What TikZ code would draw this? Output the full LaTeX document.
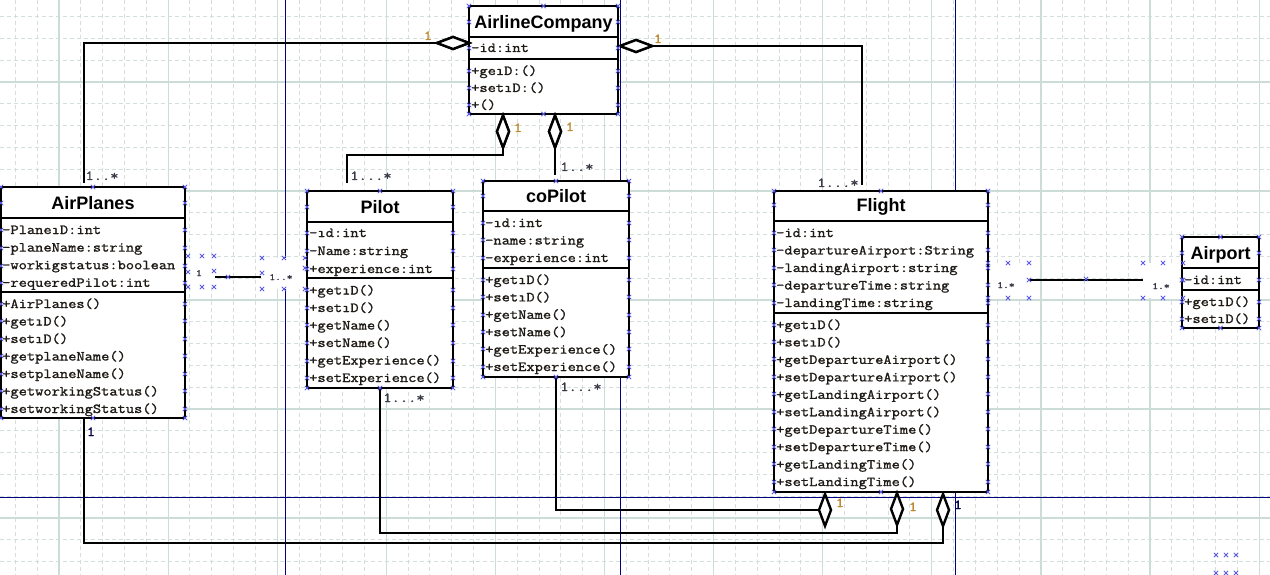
\documentclass[tikz,border=0pt]{standalone}
\usepackage{fontspec}
\setmainfont{Liberation Sans}
\newfontfamily\monof{Latin Modern Mono}[FakeStretch=1.16,FakeBold=1.3]
\usetikzlibrary{shapes.geometric,calc}
\definecolor{gridc}{HTML}{D4DFDC}
\definecolor{gridm}{HTML}{CCDCD8}
\definecolor{pagec}{HTML}{000080}
\definecolor{markc}{HTML}{5A5AE6}
\definecolor{onec}{HTML}{C08A2E}
\definecolor{txtc}{HTML}{1E1A16}
\definecolor{multc}{HTML}{3A3A48}
\tikzset{
 gminor/.style={gridc, line width=1pt, dash pattern=on 4pt off 3pt},
 gmajor/.style={gridm, line width=1.2pt},
 pageline/.style={pagec, line width=1pt},
 umlbox/.style={draw=black, fill=white, line width=2.8pt, rectangle, inner sep=0pt, outer sep=0pt, anchor=north west},
 sepline/.style={line width=2.8pt, black},
 conn/.style={line width=2.8pt, black},
 diamh/.style={diamond, draw=black, fill=white, line width=2.4pt, inner sep=0pt, outer sep=0pt, minimum width=32pt, minimum height=12pt, aspect=2.67},
 diamv/.style={diamond, draw=black, fill=white, line width=2.4pt, inner sep=0pt, outer sep=0pt, minimum width=12pt, minimum height=32pt, aspect=0.375},
 row/.style={anchor=base west, inner sep=0pt, font=\monof\fontsize{13.8}{16}\selectfont, text=txtc},
 title/.style={anchor=base, inner sep=0pt, font=\bfseries\fontsize{18}{20}\selectfont},
 mult/.style={anchor=base, inner sep=0pt, font=\monof\fontsize{13.8}{16}\selectfont, text=multc},
 one/.style={mult, text=onec},
 smalllab/.style={anchor=base, inner sep=0pt, font=\monof\fontsize{9.5}{10}\selectfont, text=multc},
 xm/.style={markc, line width=0.8pt},
 whitebg/.style={fill=white, draw=none},
}
\newcommand\xmk[2]{\draw[xm] (#1-2.2,#2-2.2) -- (#1+2.2,#2+2.2) (#1-2.2,#2+2.2) -- (#1+2.2,#2-2.2);}
\newcommand\boxmk[5]{%
  \pgfmathsetmacro\mkmid{(#1+#2)/2}%
  \xmk{\mkmid}{#3}\xmk{\mkmid}{#4}%
  \foreach \yy in {#3,#4,#5} {\xmk{#1}{\yy}\xmk{#2}{\yy}}%
}
% rows: x, first baseline, step, prefix, list
\newcommand\rows[5]{\foreach \t [count=\i from 0] in {#5} \node[row] (#4-\i) at (#1,{#2+\i*#3}) {\t};}
\begin{document}
\begin{tikzpicture}[x=1pt,y=-1pt]
\useasboundingbox (0,0) rectangle (1270,575);
\fill[white] (0,0) rectangle (1270,575);
% grid
\foreach \k in {-2,...,55} \draw[gminor] ({59+\k*21.82},0) -- ({59+\k*21.82},575);
\foreach \k in {-3,...,22} \draw[gminor] (0,{82+\k*21.8}) -- (1270,{82+\k*21.8});
\foreach \k in {0,...,11} \draw[gmajor] ({59+\k*109.1},0) -- ({59+\k*109.1},575);
\foreach \k in {0,...,4} \draw[gmajor] (0,{82+\k*109}) -- (1270,{82+\k*109});
% page borders
\draw[pageline] (285,0) -- (285,575);
\draw[pageline] (620,0) -- (620,575);
\draw[pageline] (955,0) -- (955,575);
\draw[pageline] (0,497) -- (1270,497);
% label backgrounds
\fill[whitebg] (188,256) rectangle (214,287);
\fill[whitebg] (262,258) rectangle (305,289);
\fill[whitebg] (988,263) rectangle (1029,298);
\fill[whitebg] (1143,263) rectangle (1183,298);

% diamond positions
\coordinate (d1c) at (453,43);
\coordinate (d2c) at (636,46);
\coordinate (d3c) at (503,131.5);
\coordinate (d4c) at (555,131.5);
\coordinate (d5c) at (825,510);
\coordinate (d6c) at (897,509);
\coordinate (d7c) at (943,510);

% boxes
\node[umlbox, minimum width=149pt, minimum height=108pt] (ac) at (469,6) {};
\node[umlbox, minimum width=184pt, minimum height=231pt] (apl) at (1,187) {};
\node[umlbox, minimum width=146pt, minimum height=197pt] (pil) at (307,191) {};
\node[umlbox, minimum width=146pt, minimum height=196pt] (cop) at (483,181) {};
\node[umlbox, minimum width=214pt, minimum height=301pt] (fl) at (774,191) {};
\node[umlbox, minimum width=77pt, minimum height=91pt] (apt) at (1182,237) {};

% connectors
\node[diamh] (d1) at (d1c) {};
\node[diamh] (d2) at (d2c) {};
\node[diamv] (d3) at (d3c) {};
\node[diamv] (d4) at (d4c) {};
\coordinate (apltop) at (84,183);
\coordinate (fltop) at (862,185);
\coordinate (piltop) at (347,183);
\coordinate (coptop) at (555,175);
\draw[conn] (d1.west) -| (apltop);
\draw[conn] (d2.east) -| (fltop);
\draw[conn] (d3.south) -- (503,155) -| (piltop);
\draw[conn] (d4.south) -- (coptop);
\draw[conn] (cop.south) |- (d5c);
\draw[conn] (pil.south) -- (380,533) -| (d6c);
\draw[conn] (84,418) -- (84,543) -| (d7c);
\coordinate (a1) at (215,277); \coordinate (a2) at (261,277);
\draw[conn] (a1) -- (a2);
\coordinate (b1) at (1030,280); \coordinate (b2) at (1143,280);
\draw[conn] (b1) -- (b2);
\node[diamh] (d1) at (d1c) {};
\node[diamh] (d2) at (d2c) {};
\node[diamv] (d3) at (d3c) {};
\node[diamv] (d4) at (d4c) {};
\node[diamv] (d5) at (d5c) {};
\node[diamv] (d6) at (d6c) {};
\node[diamv] (d7) at (d7c) {};

% AirlineCompany
\draw[sepline] (469,37) -- (618,37);
\draw[sepline] (469,59) -- (618,59);
\node[title] (ac-t) at (543.5,28.5) {AirlineCompany};
\rows{471}{52}{17}{aca}{-id:int}
\rows{471}{75}{17}{acm}{+geıD:(),+setıD:(),+()}

% AirPlanes
\draw[sepline] (1,218) -- (185,218);
\draw[sepline] (1,292) -- (185,292);
\node[title] (apl-t) at (93,209.5) {AirPlanes};
\rows{2}{234}{17.6}{apla}{-PlaneıD:int,-planeName:string,-workigstatus:boolean,-requeredPilot:int}
\rows{2}{308}{17.5}{aplm}{+AirPlanes(),+getıD(),+setıD(),+getplaneName(),+setplaneName(),+getworkingStatus(),+setworkingStatus()}

% Pilot
\draw[sepline] (307,222) -- (453,222);
\draw[sepline] (307,278) -- (453,278);
\node[title] (pil-t) at (380,213.5) {Pilot};
\rows{309}{237}{18}{pila}{-ıd:int,-Name:string,+experience:int}
\rows{309}{294.5}{17.5}{pilm}{+getıD(),+setıD(),+getName(),+setName(),+getExperience(),+setExperience()}

% coPilot
\draw[sepline] (483,211) -- (629,211);
\draw[sepline] (483,268) -- (629,268);
\node[title] (cop-t) at (556,202.5) {coPilot};
\rows{485}{227}{17.5}{copa}{-ıd:int,-name:string,-experience:int}
\rows{485}{284}{17.4}{copm}{+getıD(),+setıD(),+getName(),+setName(),+getExperience(),+setExperience()}

% Flight
\draw[sepline] (774,221) -- (988,221);
\draw[sepline] (774,313) -- (988,313);
\node[title] (fl-t) at (881,211.5) {Flight};
\rows{776}{237}{17.5}{fla}{-id:int,-departureAirport:String,-landingAirport:string,-departureTime:string,-landingTime:string}
\rows{776}{329}{17.45}{flm}{+getıD(),+setıD(),+getDepartureAirport(),+setDepartureAirport(),+getLandingAirport(),+setLandingAirport(),+getDepartureTime(),+setDepartureTime(),+getLandingTime(),+setLandingTime()}

% Airport
\draw[sepline] (1182,268) -- (1259,268);
\draw[sepline] (1182,290) -- (1259,290);
\node[title] (apt-t) at (1220.5,259.5) {Airport};
\rows{1184}{284}{17}{apta}{-id:int}
\rows{1184}{306}{17}{aptm}{+getıD(),+setıD()}

% multiplicity labels
\node[one] (l1) at (428,40) {1};
\node[mult] (l2) at (102,180) {1..*};
\node[mult] (l3) at (371,180) {1...*};
\node[mult] (l4) at (577,171) {1..*};
\node[mult] (l5) at (838,187) {1...*};
\node[one] (l6) at (658,43) {1};
\node[one] (l7) at (518,132) {1};
\node[one] (l8) at (570,131) {1};
\node[mult] (l9) at (404,402) {1...*};
\node[mult] (l10) at (581,391) {1...*};
\node[mult, text=pagec!60!black] (l11) at (91,436) {1};
\node[one] (l12) at (840,507) {1};
\node[one] (l13) at (913,511) {1};
\node[mult, text=pagec!60!black] (l14) at (958,509) {1};
\node[smalllab] (l15) at (199,276) {1};
\node[smalllab] (l16) at (281,280) {1..*};
\node[smalllab] (l17) at (1006,288) {1.*};
\node[smalllab] (l18) at (1161,289) {1.*};

% selection markers
\boxmk{469}{618}{6}{114}{22,48,71,88,105}
\boxmk{1}{185}{187}{418}{203,230,248,266,283,304,321,339,356,374,391,409}
\boxmk{307}{453}{191}{388}{207,233,251,269,290,308,325,343,361,378}
\boxmk{483}{629}{181}{377}{196,223,240,258,280,297,315,332,349,367}
\boxmk{774}{988}{191}{492}{205,233,250,268,285,303,325,342,359,377,394,412,429,447,464,482}
\boxmk{1182}{1259}{237}{328}{253,280,302,319}
\foreach \p in {(188,256),(202,256),(214,256),(188,272),(214,271),(188,287),(202,287),(214,287),(262,258),(284,258),(305,258),(262,273),(305,268),(262,289),(284,289),(305,289),(228,277)} {
  \path \p coordinate (q);
  \draw[xm] (q) ++(-2.2,-2.2) -- ++(4.4,4.4) ++(-4.4,0) -- ++(4.4,-4.4);
}
\foreach \p in {(988,263),(1008,263),(1029,263),(1029,280),(988,298),(1008,298),(1029,298),(1143,263),(1163,263),(1183,263),(1143,298),(1163,298),(1183,298),(1086,279),(1183,280),(1216,555),(1226,555),(1236,555),(1216,573),(1226,573),(1236,573)} {
  \path \p coordinate (q);
  \draw[xm] (q) ++(-2.2,-2.2) -- ++(4.4,4.4) ++(-4.4,0) -- ++(4.4,-4.4);
}
\end{tikzpicture}
\end{document}
